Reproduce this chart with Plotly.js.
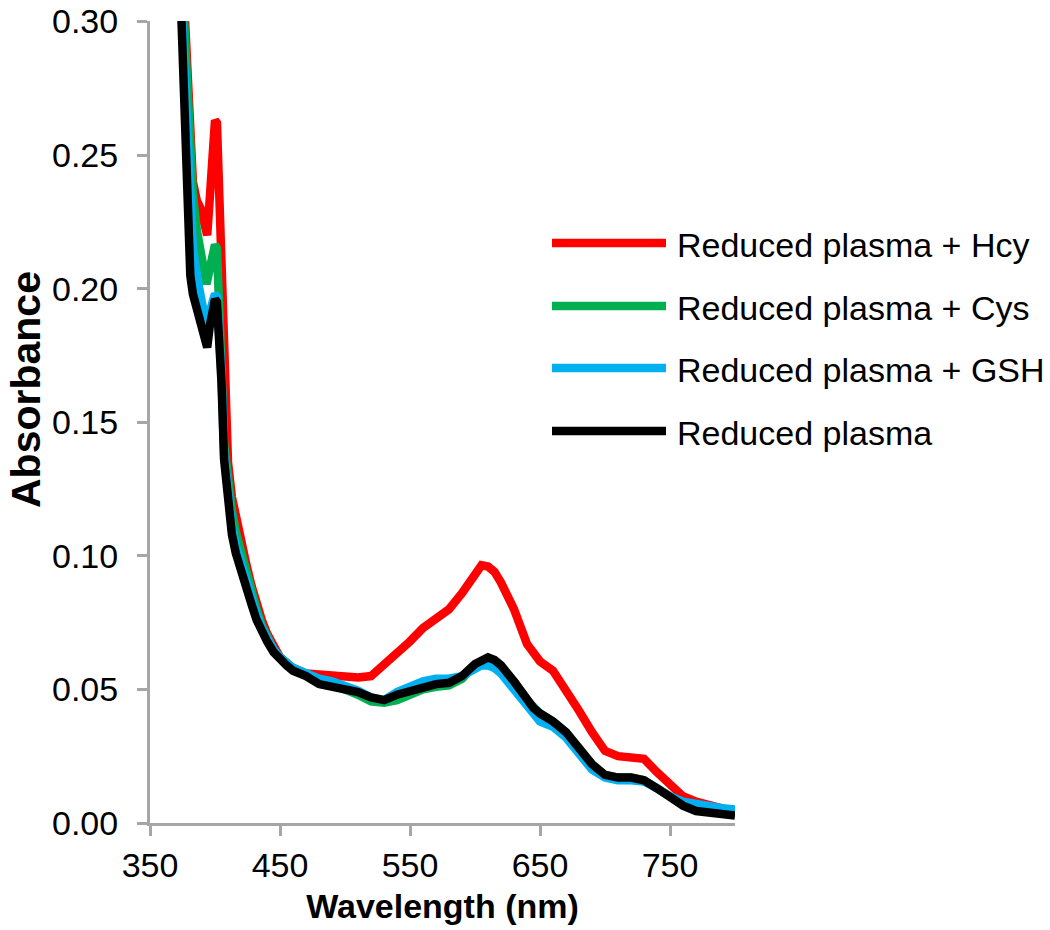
<!DOCTYPE html>
<html>
<head>
<meta charset="utf-8">
<script src="https://cdn.plot.ly/plotly-3.0.1.min.js"></script>
<style>
  html, body { margin: 0; padding: 0; background: #ffffff; }
  #chart { width: 1050px; height: 930px; }
</style>
</head>
<body>
<div id="chart"></div>
<script>
// Wavelength (nm)
const wavelength = [370,373,375,377,379,381,383,386,389,391,
  393,394,396,398,400,401.5,403,405,407,410,
  413,416,420,424,428,432,436,440,445,450,
  455,460,470,480,490,500,510,520,530,540,
  550,560,570,580,590,600,605,610,615,620,
  630,640,645,650,660,670,680,690,700,710,
  720,730,740,750,760,770,780,790,800];

const seriesNames = ["Reduced plasma + Hcy", "Reduced plasma + Cys", "Reduced plasma + GSH", "Reduced plasma"];

const hcy = [0.37,0.34,0.32,0.30,0.275,0.255,0.24,0.233,0.23,0.226,
  0.221,0.220,0.234,0.253,0.263,0.262,0.24,0.19,0.16,0.135,
  0.122,0.114,0.105,0.097,0.089,0.082,0.076,0.071,0.066,0.062,
  0.060,0.058,0.056,0.0555,0.055,0.055,0.0545,0.055,0.059,0.063,
  0.068,0.073,0.077,0.080,0.086,0.093,0.0965,0.096,0.094,0.090,
  0.080,0.067,0.063,0.0605,0.057,0.050,0.042,0.034,0.027,0.025,
  0.0245,0.024,0.019,0.014,0.010,0.008,0.0065,0.0055,0.0045];

const cys = [0.36,0.33,0.31,0.285,0.262,0.245,0.235,0.222,0.213,0.207,
  0.203,0.203,0.207,0.213,0.2165,0.215,0.20,0.17,0.142,0.127,
  0.117,0.109,0.101,0.094,0.087,0.080,0.074,0.070,0.065,0.062,
  0.060,0.058,0.056,0.054,0.052,0.0505,0.048,0.0455,0.045,0.046,
  0.048,0.050,0.051,0.0515,0.054,0.059,0.060,0.0615,0.060,0.058,
  0.053,0.046,0.043,0.041,0.038,0.034,0.028,0.022,0.018,0.017,
  0.017,0.016,0.013,0.010,0.007,0.0055,0.0048,0.0042,0.0038];

const gsh = [0.35,0.32,0.30,0.27,0.245,0.227,0.215,0.205,0.197,0.191,
  0.187,0.188,0.192,0.196,0.198,0.197,0.188,0.167,0.138,0.121,
  0.111,0.104,0.097,0.090,0.084,0.078,0.073,0.069,0.065,0.062,
  0.060,0.058,0.056,0.054,0.053,0.0515,0.0495,0.047,0.046,0.049,
  0.051,0.053,0.054,0.054,0.055,0.0575,0.059,0.059,0.058,0.056,
  0.050,0.043,0.040,0.038,0.036,0.032,0.026,0.020,0.017,0.016,
  0.016,0.0155,0.013,0.010,0.008,0.007,0.006,0.0055,0.005];

const plasma = [0.36,0.32,0.295,0.26,0.222,0.205,0.198,0.193,0.188,0.183,
  0.179,0.178,0.186,0.193,0.196,0.195,0.186,0.165,0.136,0.119,
  0.108,0.101,0.094,0.088,0.082,0.076,0.071,0.068,0.064,0.061,
  0.059,0.057,0.055,0.052,0.051,0.0505,0.049,0.047,0.046,0.048,
  0.0495,0.051,0.052,0.0525,0.055,0.0595,0.061,0.062,0.061,0.059,
  0.053,0.046,0.043,0.041,0.038,0.034,0.028,0.022,0.018,0.017,
  0.017,0.016,0.013,0.0095,0.0065,0.0045,0.0038,0.0032,0.0028];

const xTicks = [350, 450, 550, 650, 750];
const yTicks = [0.00, 0.05, 0.10, 0.15, 0.20, 0.25, 0.30];
const colors = ["#FF0000", "#00B050", "#00B0F0", "#000000"];
const allY = [hcy, cys, gsh, plasma];

const FONT = "Liberation Sans, Arial, sans-serif";

const traces = allY.map((ys, i) => ({
  x: wavelength, y: ys, name: seriesNames[i], type: "scatter", mode: "lines",
  line: { color: colors[i], width: 8.5 }, showlegend: false, hoverinfo: "x+y+name"
}));

// Hand-drawn legend (long line samples like the reference)
const L = 150, R = 735, T = 21, B = 823;
const px2x = p => (p - L) / (R - L);
const px2y = p => (B - p) / (B - T);
const legendRows = [243, 306, 368, 431];
const shapes = [], annotations = [];
seriesNames.forEach((nm, i) => {
  shapes.push({ type: "line", xref: "paper", yref: "paper",
    x0: px2x(552), x1: px2x(666), y0: px2y(legendRows[i]), y1: px2y(legendRows[i]),
    line: { color: colors[i], width: 8.5 } });
  annotations.push({ xref: "paper", yref: "paper", x: px2x(675), y: px2y(legendRows[i] + 2),
    xanchor: "left", yanchor: "middle", showarrow: false, text: nm,
    font: { family: FONT, size: 34, color: "#000000" } });
});
// Y axis title (placed like the reference, slightly above the axis middle)
annotations.push({ xref: "paper", yref: "paper", x: px2x(26), y: px2y(390),
  xanchor: "center", yanchor: "middle", textangle: -90, showarrow: false,
  text: "Absorbance", font: { family: FONT, size: 41, color: "#000000", weight: "bold" } });

const axisCommon = {
  showline: true, linecolor: "#A6A6A6", linewidth: 3, mirror: false,
  ticks: "outside", ticklen: 10, tickwidth: 3, tickcolor: "#A6A6A6",
  showgrid: false, zeroline: false,
  tickfont: { family: FONT, size: 34, color: "#000000" }
};

const layout = {
  width: 1050, height: 930,
  margin: { l: L, r: 1050 - R, t: T, b: 930 - B, pad: 0 },
  paper_bgcolor: "#ffffff", plot_bgcolor: "#ffffff",
  showlegend: false,
  xaxis: Object.assign({}, axisCommon, {
    range: [350, 800], tickmode: "array", tickvals: xTicks, ticktext: xTicks.map(String),
    ticklabelstandoff: 0,
    title: { text: "Wavelength (nm)", standoff: 12,
      font: { family: FONT, size: 34, color: "#000000", weight: "bold" } }
  }),
  yaxis: Object.assign({}, axisCommon, {
    range: [0, 0.3002], tickmode: "array", tickvals: yTicks, ticktext: yTicks.map(v => v.toFixed(2)),
    ticklabelstandoff: 12, ticklabeloverflow: "allow"
  }),
  shapes: shapes, annotations: annotations
};

Plotly.newPlot("chart", traces, layout, { displayModeBar: false, staticPlot: true });
</script>
</body>
</html>
